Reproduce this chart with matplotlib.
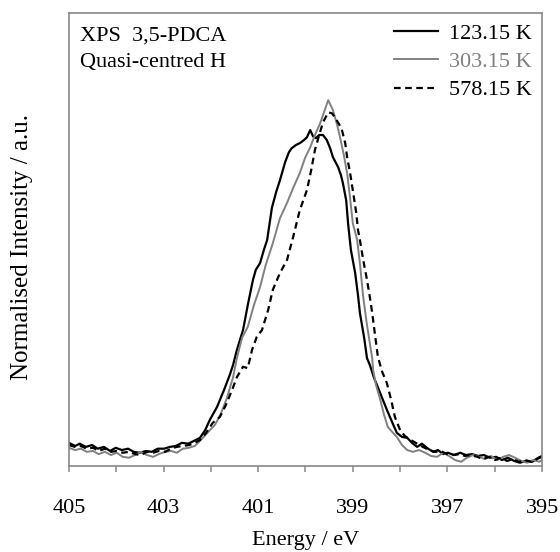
import numpy as np
import matplotlib
matplotlib.use("Agg")
import matplotlib.pyplot as plt
from matplotlib.ticker import MultipleLocator
from matplotlib.lines import Line2D

plt.rcParams['font.family'] = ['Liberation Serif', 'DejaVu Serif']

# ---------------------------------------------------------------
#  Data (energy in eV, normalised intensity)
# ---------------------------------------------------------------
e_123 = [405.00, 404.87, 404.77, 404.64, 404.51, 404.39, 404.26, 404.13, 404.01, 403.88,
         403.75, 403.63, 403.50, 403.37, 403.25, 403.12, 402.99, 402.86, 402.74, 402.61,
         402.48, 402.36, 402.23, 402.12, 402.02, 401.87, 401.72, 401.60, 401.53, 401.45,
         401.32, 401.22, 401.11, 401.05, 400.96, 400.88, 400.81, 400.71, 400.62, 400.54,
         400.43, 400.35, 400.29, 400.20, 400.12, 400.03, 399.97, 399.90, 399.84, 399.78,
         399.71, 399.63, 399.55, 399.48, 399.42, 399.31, 399.25, 399.21, 399.14, 399.10,
         399.04, 398.95, 398.89, 398.85, 398.76, 398.70, 398.64, 398.55, 398.49, 398.38,
         398.28, 398.17, 398.07, 397.96, 397.85, 397.75, 397.64, 397.54, 397.41, 397.30,
         397.20, 397.09, 396.99, 396.86, 396.73, 396.61, 396.48, 396.35, 396.23, 396.10,
         395.97, 395.85, 395.72, 395.59, 395.47, 395.34, 395.21, 395.08, 395.00]
i_123 = [0.051, 0.044, 0.049, 0.042, 0.046, 0.038, 0.042, 0.033, 0.040, 0.035,
         0.038, 0.031, 0.029, 0.033, 0.031, 0.038, 0.038, 0.042, 0.044, 0.051,
         0.049, 0.055, 0.062, 0.079, 0.102, 0.130, 0.168, 0.201, 0.223, 0.256,
         0.300, 0.355, 0.411, 0.433, 0.448, 0.477, 0.499, 0.570, 0.605, 0.631,
         0.671, 0.693, 0.702, 0.709, 0.713, 0.720, 0.726, 0.742, 0.728, 0.724,
         0.731, 0.731, 0.720, 0.702, 0.682, 0.660, 0.642, 0.625, 0.587, 0.536,
         0.477, 0.426, 0.377, 0.338, 0.283, 0.238, 0.223, 0.194, 0.179, 0.150,
         0.124, 0.097, 0.073, 0.064, 0.062, 0.051, 0.042, 0.049, 0.038, 0.031,
         0.035, 0.026, 0.029, 0.024, 0.029, 0.024, 0.026, 0.022, 0.024, 0.018,
         0.020, 0.013, 0.018, 0.011, 0.007, 0.011, 0.009, 0.018, 0.022]

e_303 = [405.00, 404.87, 404.75, 404.62, 404.49, 404.37, 404.24, 404.11, 403.99, 403.86,
         403.73, 403.60, 403.48, 403.35, 403.22, 403.10, 402.97, 402.84, 402.72, 402.59,
         402.46, 402.34, 402.27, 402.15, 402.02, 401.91, 401.79, 401.66, 401.53, 401.45,
         401.34, 401.22, 401.09, 400.96, 400.84, 400.69, 400.54, 400.39, 400.26, 400.12,
         400.01, 399.90, 399.80, 399.69, 399.61, 399.52, 399.46, 399.42, 399.33, 399.27,
         399.19, 399.12, 399.06, 399.00, 398.91, 398.85, 398.78, 398.70, 398.59, 398.57,
         398.51, 398.42, 398.34, 398.26, 398.15, 398.07, 397.96, 397.85, 397.73, 397.60,
         397.47, 397.35, 397.22, 397.09, 396.97, 396.84, 396.71, 396.59, 396.46, 396.33,
         396.21, 396.08, 395.95, 395.82, 395.70, 395.57, 395.44, 395.32, 395.19, 395.06,
         395.00]
i_303 = [0.040, 0.035, 0.038, 0.031, 0.033, 0.026, 0.031, 0.024, 0.029, 0.020,
         0.018, 0.024, 0.031, 0.024, 0.020, 0.026, 0.031, 0.033, 0.029, 0.038,
         0.040, 0.044, 0.051, 0.064, 0.079, 0.091, 0.115, 0.150, 0.196, 0.238,
         0.283, 0.307, 0.355, 0.395, 0.444, 0.492, 0.547, 0.581, 0.614, 0.647,
         0.680, 0.704, 0.731, 0.757, 0.781, 0.808, 0.795, 0.786, 0.753, 0.726,
         0.687, 0.647, 0.594, 0.536, 0.500, 0.448, 0.373, 0.311, 0.238, 0.212,
         0.179, 0.146, 0.113, 0.086, 0.073, 0.064, 0.046, 0.035, 0.031, 0.035,
         0.029, 0.022, 0.020, 0.029, 0.022, 0.013, 0.009, 0.018, 0.024, 0.020,
         0.015, 0.022, 0.013, 0.020, 0.024, 0.018, 0.011, 0.007, 0.013, 0.009,
         0.013]

e_578 = [405.00, 404.87, 404.75, 404.62, 404.49, 404.37, 404.24, 404.11, 403.99, 403.86,
         403.73, 403.60, 403.48, 403.35, 403.22, 403.10, 402.97, 402.84, 402.72, 402.59,
         402.46, 402.34, 402.23, 402.10, 401.96, 401.81, 401.68, 401.55, 401.45, 401.32,
         401.22, 401.13, 401.03, 400.92, 400.79, 400.69, 400.54, 400.39, 400.26, 400.12,
         399.97, 399.88, 399.80, 399.71, 399.63, 399.52, 399.44, 399.38, 399.29, 399.23,
         399.16, 399.12, 399.06, 399.00, 398.93, 398.89, 398.85, 398.78, 398.70, 398.64,
         398.59, 398.53, 398.47, 398.38, 398.28, 398.19, 398.11, 398.00, 397.90, 397.77,
         397.64, 397.52, 397.39, 397.26, 397.14, 397.01, 396.88, 396.75, 396.63, 396.50,
         396.37, 396.25, 396.12, 395.99, 395.87, 395.74, 395.61, 395.49, 395.36, 395.23,
         395.11, 395.00]
i_578 = [0.046, 0.042, 0.044, 0.038, 0.040, 0.033, 0.038, 0.031, 0.033, 0.029,
         0.031, 0.026, 0.024, 0.031, 0.029, 0.033, 0.031, 0.038, 0.042, 0.044,
         0.046, 0.051, 0.057, 0.073, 0.095, 0.108, 0.135, 0.168, 0.196, 0.219,
         0.216, 0.256, 0.285, 0.300, 0.344, 0.389, 0.426, 0.455, 0.506, 0.565,
         0.609, 0.653, 0.698, 0.731, 0.759, 0.781, 0.779, 0.770, 0.755, 0.742,
         0.713, 0.682, 0.649, 0.609, 0.561, 0.521, 0.499, 0.455, 0.411, 0.373,
         0.338, 0.289, 0.241, 0.208, 0.183, 0.146, 0.108, 0.079, 0.066, 0.057,
         0.049, 0.042, 0.035, 0.031, 0.033, 0.026, 0.024, 0.026, 0.022, 0.024,
         0.020, 0.015, 0.020, 0.013, 0.018, 0.011, 0.015, 0.009, 0.013, 0.009,
         0.015, 0.020]

labels = ['123.15 K', '303.15 K', '578.15 K']
colours = ['black', '#808080', 'black']
xticks = [405, 403, 401, 399, 397, 395]

# ---------------------------------------------------------------
#  Plot
# ---------------------------------------------------------------
fig = plt.figure(figsize=(5.6, 5.52), dpi=100)
ax = fig.add_axes([0.123, 0.156, 0.845, 0.820])

ax.plot(e_123, i_123, color=colours[0], lw=1.6)
ax.plot(e_303, i_303, color=colours[1], lw=1.4)
ax.plot(e_578, i_578, color=colours[2], lw=1.6, dashes=(3, 2))

ax.set_xlim(405, 395)
ax.set_ylim(0, 1)
ax.set_xticks(xticks)
ax.xaxis.set_minor_locator(MultipleLocator(1))
ax.set_yticks([])
ax.tick_params(axis='x', which='both', direction='out', length=4, width=1.1,
               color='#888888', labelsize=16, pad=20)
for s in ax.spines.values():
    s.set_color('#888888')
    s.set_linewidth(1.2)

ax.set_xlabel('Energy / eV', fontsize=16, labelpad=9)
ax.set_ylabel('Normalised Intensity / a.u.', fontsize=18)
ax.yaxis.set_label_coords(-0.076, 0.483)

ax.text(0.023, 0.940, 'XPS  3,5-PDCA', transform=ax.transAxes, fontsize=16)
ax.text(0.023, 0.881, 'Quasi-centred H', transform=ax.transAxes, fontsize=16)

handles = [Line2D([], [], color=colours[0], lw=1.6),
           Line2D([], [], color=colours[1], lw=1.4),
           Line2D([], [], color=colours[2], lw=1.6, dashes=(3, 2))]
leg = ax.legend(handles, labels, loc='upper right', frameon=False, fontsize=16,
                handlelength=2.0, handletextpad=0.5, labelspacing=0.35,
                borderpad=0.0, borderaxespad=0.45)
for t, c in zip(leg.get_texts(), colours):
    t.set_color(c)

fig.savefig('out.png', dpi=100)
